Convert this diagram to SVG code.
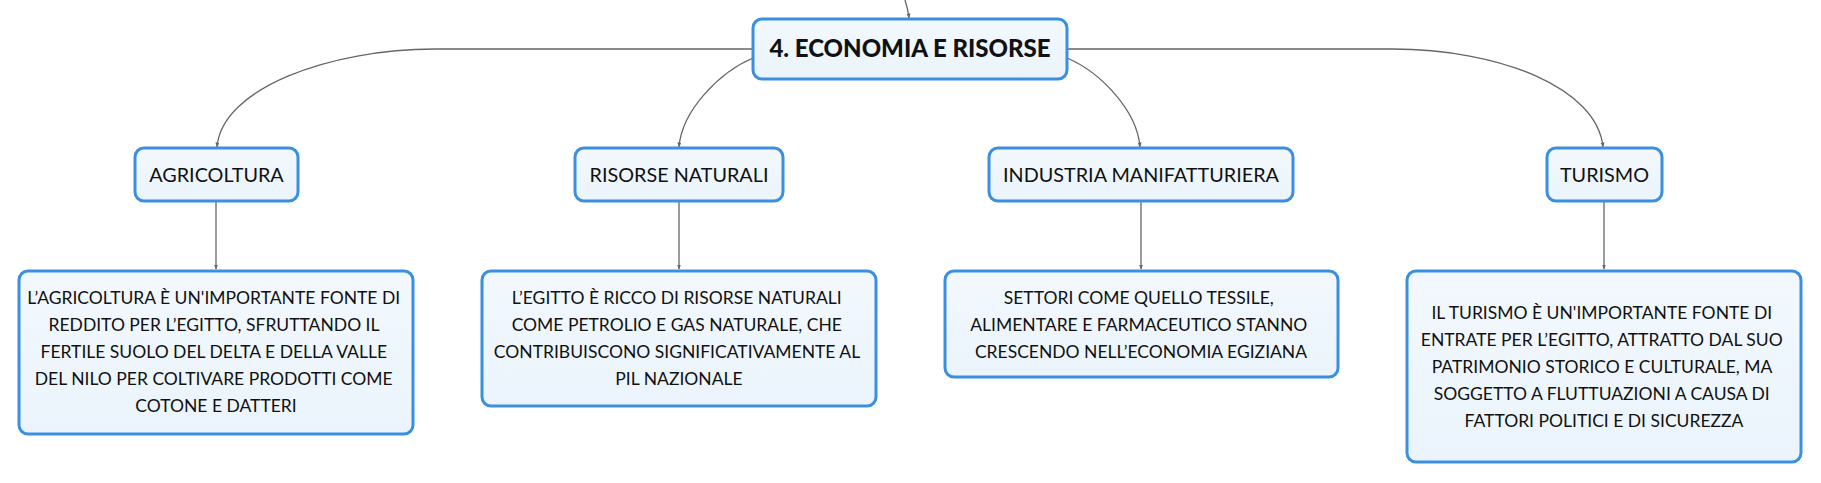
<svg xmlns="http://www.w3.org/2000/svg" width="1821" height="483" viewBox="0 0 1821 483">
<style>
.box{fill:url(#g);stroke:#3a8fdf;stroke-width:3}
.t{font-family:Lato,"Noto Sans","Liberation Sans",sans-serif;fill:#111;text-anchor:middle}
.title{font-size:19.8px}
.desc{font-size:17.5px}
.main{font-size:24px;font-weight:900}
.c{fill:none;stroke:#666;stroke-width:1.3}
</style>
<defs>
<linearGradient id="g" x1="0" y1="0" x2="0" y2="1">
<stop offset="0" stop-color="#f2f8fe"/>
<stop offset="1" stop-color="#ebf4fc"/>
</linearGradient>
<marker id="a" viewBox="0 0 10 10" refX="9" refY="5" markerWidth="5" markerHeight="5" orient="auto" markerUnits="userSpaceOnUse">
<path d="M0,1 L10,5 L0,9 z" fill="#666"/>
</marker>
</defs>
<g id="connectors">
<path class="c" marker-end="url(#a)" d="M905,0 Q908,9 909,18"/>
<path class="c" marker-end="url(#a)" d="M753,49 H435 C330,49 222,88 217,147"/>
<path class="c" marker-end="url(#a)" d="M753,58 C720,72 682,110 679,147"/>
<path class="c" marker-end="url(#a)" d="M1067,58 C1100,72 1137,110 1140,147"/>
<path class="c" marker-end="url(#a)" d="M1067,49 H1392 C1500,49 1597,88 1603,147"/>
<path class="c" marker-end="url(#a)" d="M216,201 V269"/>
<path class="c" marker-end="url(#a)" d="M679,201 V269"/>
<path class="c" marker-end="url(#a)" d="M1141,201 V269"/>
<path class="c" marker-end="url(#a)" d="M1604,201 V269"/>
</g>
<g id="n-main">
<rect class="box" x="753" y="19" width="314" height="60" rx="9"/>
<text class="t main" x="910" y="57">4. ECONOMIA E RISORSE</text>
</g>
<g id="n-agricoltura">
<rect class="box" x="135" y="148" width="163" height="53" rx="9"/>
<text class="t title" x="216.5" y="182">AGRICOLTURA</text>
</g>
<g id="n-risorse">
<rect class="box" x="575" y="148" width="208" height="53" rx="9"/>
<text class="t title" x="679" y="182">RISORSE NATURALI</text>
</g>
<g id="n-industria">
<rect class="box" x="989" y="148" width="304" height="53" rx="9"/>
<text class="t title" x="1141" y="182">INDUSTRIA MANIFATTURIERA</text>
</g>
<g id="n-turismo">
<rect class="box" x="1547" y="148" width="115" height="53" rx="9"/>
<text class="t title" x="1604.5" y="182">TURISMO</text>
</g>
<g id="n-agricoltura-desc">
<rect class="box" x="19" y="271" width="394" height="163" rx="9"/>
<text class="t desc" x="216">
<tspan x="216" y="304">L’AGRICOLTURA È UN'IMPORTANTE FONTE DI</tspan>
<tspan x="216" y="331">REDDITO PER L’EGITTO, SFRUTTANDO IL</tspan>
<tspan x="216" y="358">FERTILE SUOLO DEL DELTA E DELLA VALLE</tspan>
<tspan x="216" y="385">DEL NILO PER COLTIVARE PRODOTTI COME</tspan>
<tspan x="216" y="412">COTONE E DATTERI</tspan>
</text>
</g>
<g id="n-risorse-desc">
<rect class="box" x="482" y="271" width="394" height="135" rx="9"/>
<text class="t desc" x="679">
<tspan x="679" y="304">L’EGITTO È RICCO DI RISORSE NATURALI</tspan>
<tspan x="679" y="331">COME PETROLIO E GAS NATURALE, CHE</tspan>
<tspan x="679" y="358">CONTRIBUISCONO SIGNIFICATIVAMENTE AL</tspan>
<tspan x="679" y="385">PIL NAZIONALE</tspan>
</text>
</g>
<g id="n-industria-desc">
<rect class="box" x="945" y="271" width="393" height="106" rx="9"/>
<text class="t desc" x="1141">
<tspan x="1141" y="304">SETTORI COME QUELLO TESSILE,</tspan>
<tspan x="1141" y="331">ALIMENTARE E FARMACEUTICO STANNO</tspan>
<tspan x="1141" y="358">CRESCENDO NELL’ECONOMIA EGIZIANA</tspan>
</text>
</g>
<g id="n-turismo-desc">
<rect class="box" x="1407" y="271" width="394" height="191" rx="9"/>
<text class="t desc" x="1604">
<tspan x="1604" y="319">IL TURISMO È UN'IMPORTANTE FONTE DI</tspan>
<tspan x="1604" y="346">ENTRATE PER L’EGITTO, ATTRATTO DAL SUO</tspan>
<tspan x="1604" y="373">PATRIMONIO STORICO E CULTURALE, MA</tspan>
<tspan x="1604" y="400">SOGGETTO A FLUTTUAZIONI A CAUSA DI</tspan>
<tspan x="1604" y="427">FATTORI POLITICI E DI SICUREZZA</tspan>
</text>
</g>
</svg>
